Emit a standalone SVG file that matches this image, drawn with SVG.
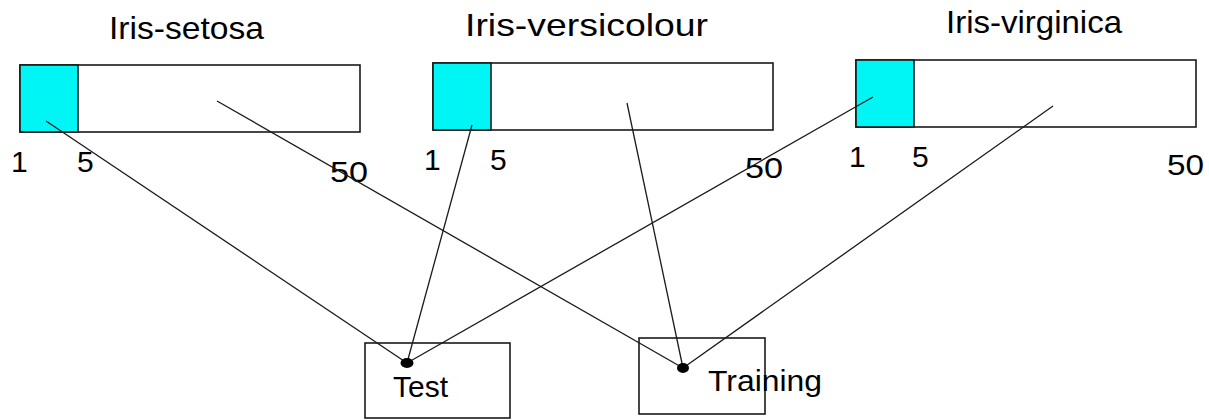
<svg xmlns="http://www.w3.org/2000/svg" width="1209" height="420" viewBox="0 0 1209 420">
  <style>
    .bar { fill: #ffffff; stroke: #1a1a1a; stroke-width: 1.6; }
    .head { fill: #00f5f5; stroke: #1a1a1a; stroke-width: 1.6; }
    .set { fill: #ffffff; stroke: #1a1a1a; stroke-width: 1.6; }
    .lbl { font-family: "Liberation Sans", Arial, sans-serif; font-size: 30px; fill: #000000; }
    .title { font-size: 32px; }
    .conn line { stroke: #1a1a1a; stroke-width: 1.3; }
    .dot { fill: #000000; }
  </style>
  <rect width="1209" height="420" fill="#ffffff"/>

  <!-- class bars: first five samples shaded -->
  <g id="setosa">
    <text class="lbl title" x="109" y="39" textLength="155" lengthAdjust="spacingAndGlyphs">Iris-setosa</text>
    <rect class="bar" x="20" y="65" width="340" height="67"/>
    <rect class="head" x="20" y="65" width="58" height="67"/>
    <text class="lbl" x="11" y="172">1</text>
    <text class="lbl" x="77" y="172">5</text>
    <text class="lbl" x="330" y="182" textLength="38" lengthAdjust="spacingAndGlyphs">50</text>
  </g>
  <g id="versicolour">
    <text class="lbl title" x="465" y="36" textLength="243" lengthAdjust="spacingAndGlyphs">Iris-versicolour</text>
    <rect class="bar" x="433" y="63" width="340" height="67"/>
    <rect class="head" x="433" y="63" width="58" height="67"/>
    <text class="lbl" x="424" y="170">1</text>
    <text class="lbl" x="490" y="170">5</text>
    <text class="lbl" x="745" y="178" textLength="38" lengthAdjust="spacingAndGlyphs">50</text>
  </g>
  <g id="virginica">
    <text class="lbl title" x="946" y="33" textLength="176" lengthAdjust="spacingAndGlyphs">Iris-virginica</text>
    <rect class="bar" x="856" y="60" width="340" height="67"/>
    <rect class="head" x="856" y="60" width="58" height="67"/>
    <text class="lbl" x="849" y="167">1</text>
    <text class="lbl" x="912" y="167">5</text>
    <text class="lbl" x="1167" y="175" textLength="37" lengthAdjust="spacingAndGlyphs">50</text>
  </g>

  <!-- output sets -->
  <g id="test">
    <rect class="set" x="365" y="343" width="145" height="75"/>
    <text class="lbl" x="393" y="397">Test</text>
  </g>
  <g id="training">
    <rect class="set" x="639" y="338" width="126" height="76"/>
    <text class="lbl" x="708" y="391" textLength="114" lengthAdjust="spacingAndGlyphs">Training</text>
  </g>

  <!-- connectors from each bar section to its set -->
  <g id="connectors" class="conn">
    <line x1="46" y1="121" x2="407" y2="363"/>
    <line x1="472" y1="125" x2="407" y2="363"/>
    <line x1="873" y1="97" x2="407" y2="363"/>
    <line x1="217" y1="101" x2="683" y2="368"/>
    <line x1="627" y1="103" x2="683" y2="368"/>
    <line x1="1053" y1="106" x2="683" y2="368"/>
    <ellipse class="dot" cx="407" cy="363" rx="6.5" ry="5"/>
    <ellipse class="dot" cx="683" cy="368" rx="6" ry="5"/>
  </g>
</svg>
